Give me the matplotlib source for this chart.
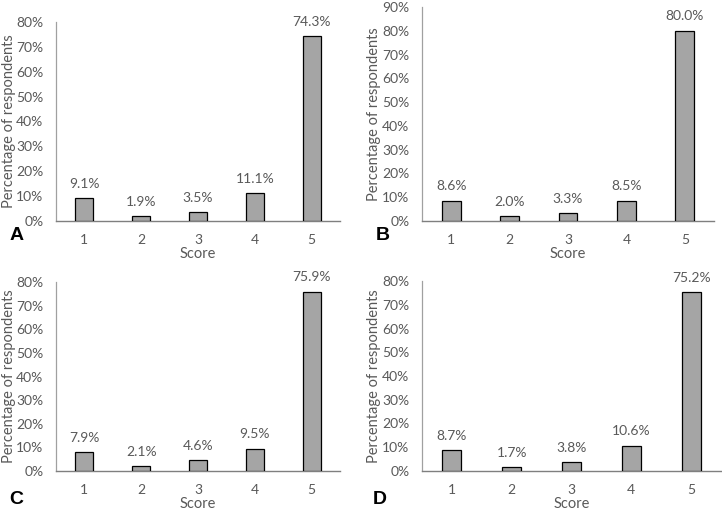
import matplotlib
matplotlib.use("Agg")
import matplotlib.pyplot as plt
from matplotlib.ticker import PercentFormatter

scores = [1, 2, 3, 4, 5]
panel_a = [9.1, 1.9, 3.5, 11.1, 74.3]
panel_b = [8.6, 2.0, 3.3, 8.5, 80.0]
panel_c = [7.9, 2.1, 4.6, 9.5, 75.9]
panel_d = [8.7, 1.7, 3.8, 10.6, 75.2]
letters = ["A", "B", "C", "D"]
ymaxes = [80, 90, 80, 80]

W, H = 722, 519
fig = plt.figure(figsize=(W / 100, H / 100), dpi=100)
FONT = ["Lato", "DejaVu Sans"]
TXT = "#595959"

# pixel boxes: left, right, top, bottom
boxes = [(56, 340, 22, 221), (422, 714, 7, 221), (56, 340, 282, 471), (422, 721, 281, 471)]
letter_pos = [(17, 235), (383, 235), (16, 499), (380, 499)]
ylabel_x = [16, 381, 16, 381]
data = [panel_a, panel_b, panel_c, panel_d]

for vals, (l, r, t, b), ymax, let, (lx, ly), yx in zip(data, boxes, ymaxes, letters, letter_pos, ylabel_x):
    ax = fig.add_axes([l / W, 1 - b / H, (r - l) / W, (b - t) / H])
    ax.bar(scores, vals, width=0.32, color="#A5A5A5", edgecolor="black", linewidth=0.9, zorder=3)
    ax.set_xlim(0.5, 5.5)
    ax.set_ylim(0, ymax)
    ax.set_yticks(range(0, ymax + 1, 10))
    ax.yaxis.set_major_formatter(PercentFormatter(decimals=0))
    ax.set_xticks(scores)
    ax.tick_params(axis="y", length=0, labelsize=10, colors=TXT, pad=9)
    ax.tick_params(axis="x", length=0, labelsize=10, colors=TXT, pad=9)
    for lab in ax.get_xticklabels() + ax.get_yticklabels():
        lab.set_fontfamily(FONT)
    for s in ["top", "right"]:
        ax.spines[s].set_visible(False)
    ax.spines["left"].set_color("#A0A0A0")
    ax.spines["bottom"].set_color("#7F7F7F")
    ax.spines["left"].set_linewidth(0.9)
    ax.spines["bottom"].set_linewidth(1.0)
    ax.set_xlabel("Score", fontsize=10.5, color=TXT, family=FONT, labelpad=1)
    ax.set_ylabel("Percentage of respondents", fontsize=10.5, color=TXT, family=FONT)
    ax.yaxis.set_label_coords((yx - l) / (r - l), 0.5)
    for x, v in zip(scores, vals):
        ax.annotate(f"{v:.1f}%", (x, v), xytext=(0, 6), textcoords="offset points",
                    ha="center", va="bottom", fontsize=10, color=TXT, family=FONT)
    fig.text(lx / W, 1 - ly / H, let, fontsize=14, fontweight="bold",
             family=["Liberation Sans", "DejaVu Sans"], ha="center", va="center", color="black")

fig.savefig("out.png", dpi=100)
